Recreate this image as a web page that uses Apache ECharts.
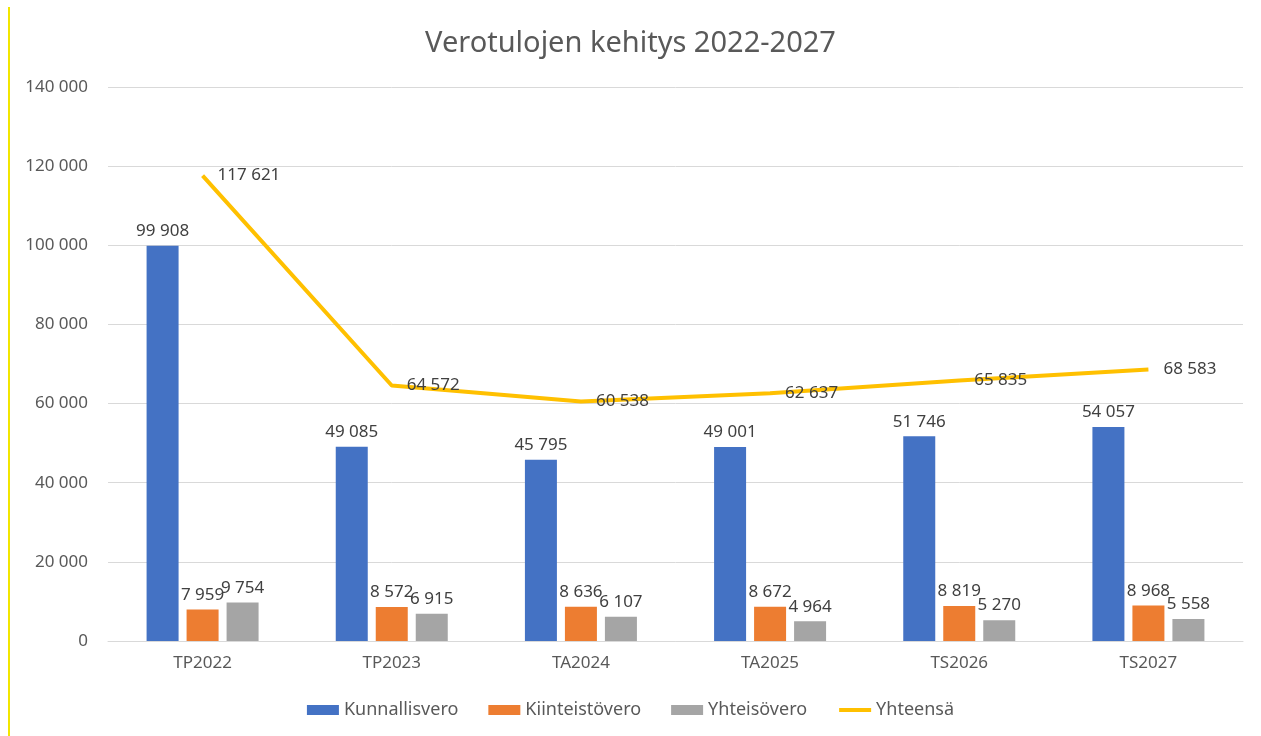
<!DOCTYPE html>
<html>
<head>
<meta charset="utf-8">
<script src="https://cdn.jsdelivr.net/npm/echarts@6/dist/echarts.min.js"></script>
<style>
  html, body { margin: 0; padding: 0; background: #fff; }
  #frame { position: absolute; left: 8px; top: 7px; width: 1253px; height: 729px; border-left: 2px solid #f2e600; }
  #chart { position: absolute; left: 0; top: 0; width: 1261px; height: 736px; }
</style>
</head>
<body>
<div id="frame"></div>
<div id="chart"></div>
<script>
var categories = ['TP2022', 'TP2023', 'TA2024', 'TA2025', 'TS2026', 'TS2027'];
var kunnallisvero = [99908, 49085, 45795, 49001, 51746, 54057];
var kiinteistovero = [7959, 8572, 8636, 8672, 8819, 8968];
var yhteisovero = [9754, 6915, 6107, 4964, 5270, 5558];
var yhteensa = [117621, 64572, 60538, 62637, 65835, 68583];

var font = 'Noto Sans';

function fmt(v) {
  return String(v).replace(/\B(?=(\d{3})+(?!\d))/g, ' ');
}

var chart = echarts.init(document.getElementById('chart'));

function barSerie(name, data, color) {
  return {
    name: name,
    type: 'bar',
    data: data,
    barWidth: 32,
    barGap: '25%',
    itemStyle: { color: color },
    label: {
      show: true,
      position: 'top',
      distance: 6,
      color: '#404040',
      fontFamily: font,
      fontSize: 17,
      formatter: function (p) { return fmt(p.value); }
    }
  };
}

var option = {
  animation: false,
  title: {
    text: 'Verotulojen kehitys 2022-2027',
    left: 'center',
    top: 24,
    textStyle: { color: '#595959', fontFamily: font, fontSize: 29, fontWeight: 'normal' }
  },
  legend: {
    bottom: 12,
    left: 'center',
    itemWidth: 32,
    itemHeight: 10,
    itemGap: 30,
    textStyle: { color: '#595959', fontFamily: font, fontSize: 18 },
    data: [
      { name: 'Kunnallisvero', icon: 'rect' },
      { name: 'Kiinteistövero', icon: 'rect' },
      { name: 'Yhteisövero', icon: 'rect' },
      { name: 'Yhteensä', itemStyle: { opacity: 0 }, lineStyle: { width: 4 } }
    ]
  },
  grid: { left: 108, right: 18, top: 87, bottom: 95 },
  xAxis: {
    type: 'category',
    data: categories,
    axisLine: { lineStyle: { color: '#d9d9d9', width: 1 } },
    axisTick: { show: false },
    axisLabel: { color: '#595959', fontFamily: font, fontSize: 17, margin: 14 }
  },
  yAxis: {
    type: 'value',
    min: 0,
    max: 140000,
    interval: 20000,
    axisLine: { show: false },
    axisTick: { show: false },
    splitLine: { lineStyle: { color: '#d9d9d9', width: 1 } },
    axisLabel: {
      color: '#595959',
      fontFamily: font,
      fontSize: 17,
      margin: 20,
      formatter: function (v) { return fmt(v); }
    }
  },
  series: [
    barSerie('Kunnallisvero', kunnallisvero, '#4472c4'),
    barSerie('Kiinteistövero', kiinteistovero, '#ed7d31'),
    barSerie('Yhteisövero', yhteisovero, '#a5a5a5'),
    {
      name: 'Yhteensä',
      type: 'line',
      data: yhteensa,
      showSymbol: true,
      symbol: 'circle',
      symbolSize: 0,
      lineStyle: { color: '#ffc000', width: 4 },
      itemStyle: { color: '#ffc000' },
      label: {
        show: true,
        position: 'right',
        distance: 15,
        color: '#404040',
        fontFamily: font,
        fontSize: 17,
        formatter: function (p) { return fmt(p.value); }
      }
    }
  ]
};

chart.setOption(option);
</script>
</body>
</html>
